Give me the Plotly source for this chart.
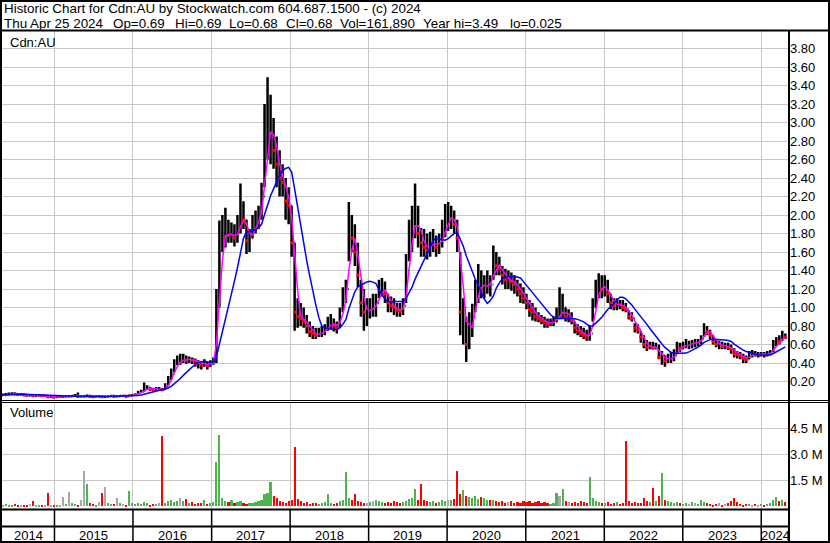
import numpy as np
import pandas as pd
import plotly.graph_objects as go

# two-week buckets, May 2014 .. Apr 2024
dates = pd.date_range("2014-05-05", periods=261, freq="14D")

price_close = [
    # 2014
    0.055, 0.06, 0.065, 0.07, 0.065, 0.06, 0.06, 0.055, 0.05, 0.05, 0.045, 0.045, 0.05, 0.045, 0.045, 0.035, 0.035, 0.03,
    # 2015
    0.035, 0.035, 0.035, 0.04, 0.04, 0.045, 0.05, 0.04, 0.04, 0.04, 0.045, 0.04, 0.035, 0.04, 0.04, 0.035, 0.035, 0.04,
    0.045, 0.04, 0.04, 0.045, 0.045, 0.04, 0.05, 0.055,
    # 2016
    0.06, 0.08, 0.09, 0.12, 0.14, 0.12, 0.11, 0.12, 0.12, 0.11, 0.14, 0.22, 0.28, 0.38, 0.42, 0.42, 0.45, 0.43,
    0.44, 0.43, 0.42, 0.40, 0.38, 0.40, 0.37, 0.40,
    # 2017
    0.42, 1.0, 1.75, 1.78, 1.8, 1.78, 1.8, 1.75, 1.82, 2.05, 1.95, 1.72, 1.75, 1.88, 1.9, 1.98, 2.2, 2.8,
    2.9, 3.0, 2.7, 2.55, 2.4, 2.35, 2.15, 2.1,
    # 2018
    1.7, 0.95, 0.9, 0.88, 0.85, 0.8, 0.74, 0.72, 0.7, 0.72, 0.74, 0.76, 0.82, 0.84, 0.8, 0.78, 0.92, 1.1,
    1.2, 1.9, 1.75, 1.6, 1.35, 1.05, 0.95, 0.95,
    # 2019
    1.0, 1.0, 1.05, 1.2, 1.22, 1.15, 1.05, 1.02, 1.0, 0.97, 0.96, 1.02, 1.4, 1.8, 1.85, 2.0, 1.8, 1.7,
    1.65, 1.62, 1.7, 1.72, 1.65, 1.7, 1.8, 1.95,
    # 2020
    1.95, 2.0, 1.9, 1.75, 0.95, 1.0, 0.6, 0.85, 0.9, 1.15, 1.3, 1.2, 1.22, 1.28, 1.25, 1.5, 1.45, 1.42,
    1.35, 1.3, 1.3, 1.28, 1.25, 1.2, 1.15, 1.1,
    # 2021
    1.05, 0.98, 0.95, 0.9, 0.88, 0.86, 0.84, 0.82, 0.84, 0.85, 0.92, 0.92, 1.0, 0.9, 0.9, 0.86, 0.78, 0.75,
    0.72, 0.7, 0.68, 0.72, 1.0, 1.15, 1.25, 1.2,
    # 2022
    1.22, 1.15, 1.05, 1.02, 1.04, 1.03, 1.0, 0.98, 0.9, 0.88, 0.78, 0.76, 0.68, 0.6, 0.57, 0.58, 0.56, 0.58,
    0.46, 0.48, 0.42, 0.45, 0.46, 0.48, 0.58, 0.56,
    # 2023
    0.58, 0.6, 0.6, 0.62, 0.62, 0.63, 0.66, 0.78, 0.74, 0.7, 0.63, 0.6, 0.6, 0.58, 0.58, 0.57, 0.55, 0.5,
    0.49, 0.48, 0.45, 0.44, 0.5, 0.5, 0.49, 0.49,
    # 2024
    0.5, 0.49, 0.5, 0.52, 0.6, 0.64, 0.63, 0.7, 0.68,
]

price_high = [
    0.07, 0.075, 0.08, 0.085, 0.08, 0.075, 0.075, 0.07, 0.065, 0.065, 0.06, 0.06, 0.065, 0.06, 0.06, 0.05, 0.05, 0.045,
    0.045, 0.045, 0.05, 0.05, 0.05, 0.055, 0.065, 0.08, 0.05, 0.05, 0.06, 0.05, 0.045, 0.05, 0.05, 0.045, 0.045, 0.05,
    0.055, 0.05, 0.05, 0.055, 0.055, 0.05, 0.06, 0.065,
    0.07, 0.1, 0.11, 0.19, 0.16, 0.14, 0.13, 0.14, 0.14, 0.13, 0.18, 0.26, 0.34, 0.44, 0.48, 0.5, 0.5, 0.48,
    0.47, 0.46, 0.45, 0.43, 0.42, 0.44, 0.41, 0.43,
    0.46, 1.2, 1.94, 2.0, 2.08, 1.95, 1.92, 1.9, 2.0, 2.34, 2.15, 1.95, 1.85, 2.0, 2.05, 2.1, 2.35, 3.2,
    3.49, 3.3, 3.05, 2.85, 2.7, 2.55, 2.4, 2.3,
    2.1, 1.7, 1.1, 1.05, 1.0, 0.92, 0.85, 0.8, 0.78, 0.78, 0.8, 0.82, 0.9, 0.93, 0.88, 0.85, 1.0, 1.22,
    1.3, 2.14, 2.0, 1.9, 1.7, 1.3, 1.2, 1.1,
    1.1, 1.15, 1.15, 1.3, 1.32, 1.28, 1.15, 1.12, 1.1, 1.05, 1.05, 1.1, 1.58, 1.95, 2.1, 2.34, 2.1, 1.86,
    1.85, 1.8, 1.82, 1.85, 1.78, 1.8, 1.95, 2.12,
    2.14, 2.1, 2.05, 1.95, 1.6, 1.1, 0.9, 0.95, 1.04, 1.3, 1.47, 1.4, 1.35, 1.4, 1.35, 1.67, 1.6, 1.55,
    1.45, 1.42, 1.4, 1.38, 1.35, 1.3, 1.26, 1.22,
    1.15, 1.08, 1.05, 1.0, 0.95, 0.92, 0.9, 0.88, 0.88, 0.9, 1.0, 1.22, 1.15, 1.0, 0.98, 0.95, 0.85, 0.82,
    0.8, 0.78, 0.76, 0.8, 1.1, 1.3, 1.37, 1.35,
    1.35, 1.3, 1.15, 1.1, 1.1, 1.08, 1.08, 1.05, 0.97, 0.95, 0.83, 0.82, 0.75, 0.7, 0.65, 0.63, 0.63, 0.62,
    0.6, 0.53, 0.48, 0.5, 0.52, 0.55, 0.63, 0.62,
    0.63, 0.66, 0.64, 0.65, 0.66, 0.66, 0.7, 0.83, 0.8, 0.76, 0.7, 0.65, 0.64, 0.63, 0.62, 0.62, 0.6, 0.56,
    0.53, 0.52, 0.5, 0.48, 0.53, 0.54, 0.53, 0.52,
    0.52, 0.52, 0.53, 0.54, 0.65, 0.68, 0.7, 0.75, 0.72,
]

price_low = [
    0.045, 0.05, 0.055, 0.06, 0.055, 0.05, 0.05, 0.045, 0.04, 0.04, 0.035, 0.035, 0.04, 0.035, 0.035, 0.025, 0.025, 0.025,
    0.025, 0.025, 0.025, 0.03, 0.03, 0.035, 0.04, 0.03, 0.03, 0.03, 0.035, 0.03, 0.025, 0.03, 0.03, 0.025, 0.025, 0.03,
    0.035, 0.03, 0.03, 0.035, 0.035, 0.03, 0.04, 0.045,
    0.05, 0.06, 0.08, 0.09, 0.11, 0.1, 0.1, 0.1, 0.1, 0.1, 0.11, 0.15, 0.22, 0.3, 0.38, 0.38, 0.4, 0.39,
    0.4, 0.39, 0.36, 0.34, 0.33, 0.36, 0.33, 0.36,
    0.38, 0.4, 1.0, 1.6, 1.65, 1.7, 1.7, 1.66, 1.7, 1.8, 1.85, 1.58, 1.6, 1.75, 1.8, 1.85, 1.95, 2.3,
    2.6, 2.55, 2.5, 2.3, 2.2, 2.2, 1.95, 1.9,
    1.55, 0.75, 0.78, 0.8, 0.78, 0.72, 0.68, 0.66, 0.66, 0.68, 0.68, 0.7, 0.75, 0.76, 0.74, 0.72, 0.78, 0.95,
    1.05, 1.5, 1.6, 1.45, 1.22, 0.9, 0.75, 0.8,
    0.88, 0.9, 0.9, 1.1, 1.12, 1.05, 0.95, 0.95, 0.92, 0.9, 0.9, 0.92, 1.05, 1.5, 1.6, 1.75, 1.65, 1.55,
    1.55, 1.52, 1.55, 1.6, 1.55, 1.58, 1.65, 1.76,
    1.83, 1.85, 1.8, 1.6, 0.7, 0.6, 0.41, 0.55, 0.68, 0.95, 1.05, 1.1, 1.1, 1.15, 1.12, 1.3, 1.35, 1.35,
    1.25, 1.2, 1.2, 1.18, 1.15, 1.12, 1.05, 1.04,
    0.98, 0.9, 0.86, 0.85, 0.84, 0.82, 0.78, 0.78, 0.8, 0.8, 0.84, 0.88, 0.88, 0.85, 0.84, 0.82, 0.72, 0.7,
    0.68, 0.66, 0.64, 0.64, 0.85, 1.0, 1.1, 1.1,
    1.12, 1.05, 0.98, 0.97, 0.97, 0.98, 0.96, 0.95, 0.87, 0.85, 0.73, 0.72, 0.62, 0.56, 0.53, 0.55, 0.55, 0.55,
    0.44, 0.38, 0.36, 0.4, 0.4, 0.42, 0.5, 0.52,
    0.55, 0.56, 0.55, 0.56, 0.57, 0.58, 0.6, 0.68, 0.7, 0.66, 0.6, 0.57, 0.55, 0.55, 0.55, 0.54, 0.5, 0.46,
    0.45, 0.44, 0.4, 0.4, 0.44, 0.46, 0.47, 0.46,
    0.47, 0.46, 0.47, 0.48, 0.52, 0.58, 0.6, 0.64, 0.66,
]

# largest daily volume in each bucket, millions of shares
volume_m = [
    0.08, 0.12, 0.06, 0.1, 0.15, 0.08, 0.05, 0.1, 0.07, 0.12, 0.3, 0.06, 0.08, 0.1, 0.05, 0.8, 0.1, 0.06,
    0.1, 0.08, 0.55, 0.15, 0.85, 0.2, 0.12, 0.1, 0.4, 2.07, 1.29, 0.2, 0.15, 0.1, 0.25, 0.76, 1.1, 0.2,
    0.15, 0.12, 0.5, 0.2, 0.15, 0.1, 0.9, 0.2,
    0.12, 0.2, 0.15, 0.25, 0.18, 0.1, 0.15, 0.12, 0.2, 4.1, 0.2, 0.3, 0.35, 0.25, 0.3, 0.5, 0.3, 0.45,
    0.2, 0.25, 0.15, 0.2, 0.18, 0.35, 0.15, 0.2,
    0.25, 2.55, 4.17, 0.5, 0.3, 0.25, 0.4, 0.2, 0.25, 0.3, 0.2, 0.15, 0.2, 0.18, 0.25, 0.3, 0.35, 0.7,
    0.8, 1.4, 0.6, 0.5, 0.3, 0.25, 0.2, 0.3,
    0.4, 3.43, 0.45, 0.3, 0.2, 0.25, 0.15, 0.2, 0.18, 0.15, 0.2, 0.25, 0.7, 0.2, 0.15, 0.2, 0.3, 0.4,
    1.97, 0.5, 0.35, 0.7, 0.3, 0.25, 0.2, 0.2,
    0.25, 0.3, 0.35, 0.3, 0.25, 0.2, 0.25, 0.2, 0.3, 0.25, 0.2, 0.25, 0.3, 0.45, 0.5, 1.0, 0.4, 1.3,
    0.35, 0.3, 0.25, 0.3, 0.2, 0.25, 0.35, 0.3,
    0.4, 0.35, 0.45, 2.07, 0.7, 0.95, 0.6, 0.55, 0.5, 0.6, 0.45, 0.55, 0.5, 0.35, 0.4, 0.35, 0.3, 0.25,
    0.3, 0.2, 0.25, 0.3, 0.2, 0.25, 0.2, 0.3,
    0.25, 0.3, 0.2, 0.25, 0.3, 0.2, 0.25, 0.2, 0.15, 0.2, 0.8, 0.6, 1.03, 0.3, 0.25, 0.2, 0.25, 0.2,
    0.3, 0.25, 0.2, 1.72, 0.5, 0.3, 0.25, 0.2,
    0.2, 0.25, 0.15, 0.2, 0.25, 0.15, 0.2, 3.82, 0.3, 0.2, 0.25, 0.2, 0.2, 0.5, 0.3, 0.25, 1.09, 0.3,
    0.6, 1.91, 0.35, 0.3, 0.25, 0.2, 0.25, 0.2,
    0.15, 0.2, 0.15, 0.25, 0.2, 0.15, 0.4, 0.25, 0.2, 0.15, 0.1, 0.15, 0.2, 0.1, 0.15, 0.2, 0.3, 0.5,
    0.25, 0.15, 0.1, 0.12, 0.15, 0.1, 0.12, 0.1,
    0.12, 0.1, 0.15, 0.2, 0.35, 0.55, 0.3, 0.35, 0.25,
]

year_labels = ["2014", "2015", "2016", "2017", "2018", "2019", "2020", "2021", "2022", "2023", "2024"]
price_ticks = [round(0.2 * k, 2) for k in range(1, 20)]
volume_ticks = [1.5, 3.0, 4.5]
volume_ticktext = ["1.5 M", "3.0 M", "4.5 M"]

header_1 = "Historic Chart for Cdn:AU by Stockwatch.com 604.687.1500 - (c) 2024"
header_2 = ["Thu Apr 25 2024", "Op=0.69", "Hi=0.69", "Lo=0.68", "Cl=0.68", "Vol=161,890", "Year hi=3.49", "lo=0.025"]

close = np.array(price_close)
high = np.array(price_high)
low = np.array(price_low)
vol = np.array(volume_m)
assert len(close) == len(high) == len(low) == len(vol) == len(dates)

opens = np.r_[close[0], close[:-1]]
down = close < opens
ma_fast = pd.Series(close).rolling(3, min_periods=1).mean()
ma_slow = pd.Series(close).rolling(10, min_periods=1).mean()
vol_colors = np.where(close > opens, "#4cb54c", np.where(close < opens, "#ff0000", "#a8a8a8"))

W, H = 830, 543
FONT = "Liberation Sans, Arial, sans-serif"
GRID = "#c8c8c8"
X_RANGE = ["2014-05-02", "2024-05-09"]


def px(x):
    return x / W


def py(y):
    return 1 - y / H


fig = go.Figure()
fig.add_trace(go.Ohlc(
    x=dates, open=opens, high=high, low=low, close=close,
    increasing_line_color="black", decreasing_line_color="black",
    line_width=2.5, tickwidth=0.2, showlegend=False, hoverinfo="skip",
))
fig.add_trace(go.Scatter(
    x=dates[down], y=close[down], mode="markers",
    marker=dict(symbol="square", size=3, color="red"), showlegend=False, hoverinfo="skip",
))
fig.add_trace(go.Scatter(x=dates, y=ma_fast, mode="lines", line=dict(color="#ff00ff", width=1.5),
                         showlegend=False, hoverinfo="skip"))
fig.add_trace(go.Scatter(x=dates, y=ma_slow, mode="lines", line=dict(color="#0000ff", width=1.5),
                         showlegend=False, hoverinfo="skip"))
fig.add_trace(go.Bar(
    x=dates, y=vol, marker_color=vol_colors, marker_line_width=0,
    width=10 * 86400000, xaxis="x2", yaxis="y2", showlegend=False, hoverinfo="skip",
))

xcommon = dict(
    domain=[px(2), px(789)], type="date", range=X_RANGE, showticklabels=False,
    showgrid=True, gridcolor=GRID, gridwidth=1, dtick="M12", tick0="2014-01-01",
    ticks="", zeroline=False, showline=False,
)
ycommon = dict(
    side="right", showgrid=True, gridcolor=GRID, gridwidth=1, zeroline=False, showline=False,
    ticks="", tickfont=dict(family=FONT, size=13, color="black"),
)

fig.update_layout(
    width=W, height=H, margin=dict(l=0, r=0, t=0, b=0),
    paper_bgcolor="white", plot_bgcolor="white", bargap=0,
    xaxis=dict(xcommon, anchor="y", rangeslider=dict(visible=False)),
    xaxis2=dict(xcommon, anchor="y2", matches="x"),
    yaxis=dict(ycommon, domain=[py(400), py(31)], range=[0, 3.99],
               tickvals=price_ticks, tickformat=".2f", anchor="x"),
    yaxis2=dict(ycommon, domain=[py(509), py(403)], range=[-0.15, 6.0],
                tickvals=volume_ticks, ticktext=volume_ticktext, anchor="x2"),
    font=dict(family=FONT, color="black"),
)

shapes = []


def hline(y, x0, x1, w):
    shapes.append(dict(type="line", xref="paper", yref="paper", x0=px(x0), x1=px(x1),
                       y0=py(y), y1=py(y), line=dict(color="black", width=w)))


def vline(x, y0, y1, w):
    shapes.append(dict(type="line", xref="paper", yref="paper", x0=px(x), x1=px(x),
                       y0=py(y0), y1=py(y1), line=dict(color="black", width=w)))


hline(30.5, 0, 830, 2)
hline(400.5, 0, 830, 1)
hline(402.5, 0, 830, 1)
hline(509.5, 0, 789, 2)
hline(526.5, 0, 789, 2)
vline(789, 30, 543, 2)
# outer frame
hline(1, 0, 830, 2)
hline(542, 0, 830, 2)
vline(1, 0, 543, 2)
vline(829, 0, 543, 2)

for yr in year_labels[1:]:
    shapes.append(dict(type="line", xref="x", yref="paper", x0=f"{yr}-01-01", x1=f"{yr}-01-01",
                       y0=py(542), y1=py(510), line=dict(color="black", width=1.5)))

annotations = []


def label(text, x, y, size=13.4, xanchor="left"):
    annotations.append(dict(text=text, xref="paper", yref="paper", x=px(x), y=py(y),
                            xanchor=xanchor, yanchor="middle", showarrow=False,
                            font=dict(family=FONT, size=size, color="black")))


label(header_1, 2, 8.5)
for text, x in zip(header_2, [2, 111, 172.5, 226.5, 284, 338, 421, 508]):
    label(text, x, 23)
label("Cdn:AU", 8, 42, 13)
label("Volume", 8, 413, 13)

# year labels centred in each visible year segment
edges = [pd.Timestamp(X_RANGE[0])] + [pd.Timestamp(f"{y}-01-01") for y in year_labels[1:]] + [pd.Timestamp(X_RANGE[1])]
for i, yr in enumerate(year_labels):
    mid = edges[i] + (edges[i + 1] - edges[i]) / 2
    annotations.append(dict(text=yr, xref="x", yref="paper", x=mid, y=py(535),
                            xanchor="center", yanchor="middle", showarrow=False,
                            font=dict(family=FONT, size=13, color="black")))

fig.update_layout(shapes=shapes, annotations=annotations)
# the page body default margin would shift the figure off the window
fig.write_html("out.html", config={"displayModeBar": False},
               post_script="document.body.style.margin='0';")
